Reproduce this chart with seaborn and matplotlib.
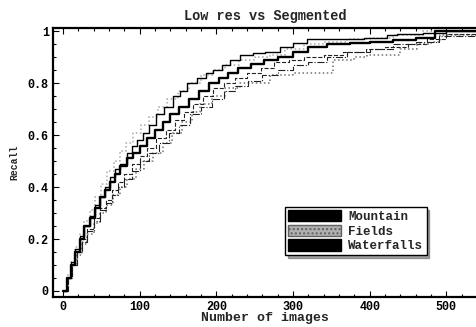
import matplotlib
matplotlib.use("Agg")
import matplotlib.pyplot as plt
from matplotlib.patches import Patch
from matplotlib.ticker import MultipleLocator
import pandas as pd
import seaborn as sns

# recall curves (x = number of images, y = recall)
mountain_low_x = [0, 5, 10, 16, 22, 28, 35, 42, 48, 55, 61, 68, 75, 83, 90, 97, 104, 112, 122, 132,
                  144, 153, 162, 175, 186, 196, 208, 218, 231, 248, 264, 283, 300, 318, 340, 365,
                  392, 423, 436, 470, 500, 540]
mountain_low_y = [0, 0.05, 0.11, 0.16, 0.21, 0.25, 0.29, 0.33, 0.36, 0.40, 0.44, 0.47, 0.49, 0.53,
                  0.56, 0.58, 0.61, 0.64, 0.68, 0.71, 0.75, 0.77, 0.80, 0.82, 0.84, 0.85, 0.87, 0.89,
                  0.91, 0.915, 0.92, 0.94, 0.955, 0.97, 0.97, 0.97, 0.975, 0.985, 0.99, 0.995, 1.0, 1.0]

mountain_seg_x = [0, 5, 10, 16, 22, 28, 35, 42, 48, 55, 61, 68, 75, 83, 92, 100, 110, 120, 130, 140,
                  152, 165, 178, 190, 203, 215, 228, 245, 262, 280, 300, 320, 345, 375, 400, 430,
                  460, 485, 540]
mountain_seg_y = [0, 0.05, 0.10, 0.15, 0.20, 0.25, 0.28, 0.32, 0.36, 0.39, 0.42, 0.45, 0.48, 0.51,
                  0.53, 0.56, 0.59, 0.62, 0.65, 0.68, 0.71, 0.74, 0.77, 0.80, 0.82, 0.84, 0.86,
                  0.875, 0.89, 0.90, 0.92, 0.94, 0.95, 0.955, 0.96, 0.965, 0.975, 1.0, 1.0]

waterfalls_low_x = [0, 6, 12, 18, 25, 32, 40, 48, 56, 64, 72, 80, 90, 100, 110, 122, 134, 146, 158,
                    170, 183, 196, 210, 225, 240, 258, 275, 295, 315, 340, 365, 395, 420, 450, 475,
                    500, 540]
waterfalls_low_y = [0, 0.05, 0.10, 0.15, 0.20, 0.24, 0.28, 0.32, 0.35, 0.39, 0.42, 0.45, 0.49, 0.52,
                    0.55, 0.59, 0.62, 0.66, 0.69, 0.72, 0.75, 0.78, 0.80, 0.82, 0.84, 0.86, 0.88,
                    0.89, 0.90, 0.91, 0.92, 0.93, 0.94, 0.95, 0.97, 0.99, 1.0]

waterfalls_seg_x = [0, 6, 12, 18, 25, 32, 40, 48, 56, 64, 72, 80, 90, 100, 112, 125, 138, 152, 166,
                    180, 195, 210, 225, 242, 260, 280, 300, 320, 345, 370, 400, 430, 460, 490, 540]
waterfalls_seg_y = [0, 0.05, 0.10, 0.15, 0.19, 0.23, 0.27, 0.31, 0.34, 0.37, 0.40, 0.43, 0.46, 0.50,
                    0.53, 0.57, 0.61, 0.64, 0.68, 0.71, 0.74, 0.77, 0.79, 0.81, 0.83, 0.85, 0.87,
                    0.88, 0.90, 0.92, 0.93, 0.95, 0.96, 0.98, 1.0]

fields_low_x = [0, 5, 10, 16, 22, 28, 35, 42, 50, 58, 66, 74, 82, 92, 102, 112, 124, 136, 150, 165,
                180, 196, 212, 230, 250, 270, 290, 315, 340, 370, 400, 430, 470, 540]
fields_low_y = [0, 0.06, 0.11, 0.17, 0.22, 0.27, 0.31, 0.36, 0.41, 0.46, 0.50, 0.54, 0.57, 0.61,
                0.64, 0.67, 0.71, 0.74, 0.77, 0.80, 0.83, 0.85, 0.87, 0.89, 0.90, 0.91, 0.93, 0.95,
                0.96, 0.97, 0.975, 0.985, 1.0, 1.0]

fields_seg_x = [0, 6, 12, 18, 25, 32, 40, 48, 56, 65, 74, 84, 95, 106, 118, 130, 142, 155, 168, 179,
                195, 212, 231, 257, 270, 300, 322, 352, 380, 397, 440, 462, 480, 492, 540]
fields_seg_y = [0, 0.05, 0.10, 0.14, 0.18, 0.22, 0.26, 0.30, 0.33, 0.37, 0.40, 0.43, 0.47, 0.50,
                0.53, 0.57, 0.61, 0.65, 0.69, 0.72, 0.75, 0.78, 0.80, 0.80, 0.83, 0.84, 0.84, 0.89,
                0.90, 0.91, 0.93, 0.95, 0.96, 0.985, 1.0]

legend_labels = ["Mountain", "Fields", "Waterfalls"]

sns.set_style("ticks")
plt.rcParams["font.family"] = ["Liberation Mono", "DejaVu Sans Mono"]
plt.rcParams["font.weight"] = "bold"

fig = plt.figure(figsize=(4.77, 3.27), dpi=100)
ax = fig.add_axes([0.111, 0.092, 0.889, 0.822])

curves = [
    (fields_low_x, fields_low_y, "#a8a8a8", ":", 1.1),
    (fields_seg_x, fields_seg_y, "#707070", ":", 1.1),
    (waterfalls_seg_x, waterfalls_seg_y, "#222222", "-.", 0.8),
    (waterfalls_low_x, waterfalls_low_y, "#222222", "--", 0.8),
    (mountain_seg_x, mountain_seg_y, "black", "-", 1.7),
    (mountain_low_x, mountain_low_y, "black", "-", 1.0),
]
for xs, ys, col, ls, lw in curves:
    df = pd.DataFrame({"images": xs, "recall": ys})
    sns.lineplot(data=df, x="images", y="recall", ax=ax, estimator=None,
                 drawstyle="steps-post", color=col, linestyle=ls, linewidth=lw)

ax.set_xlim(-13, 540)
ax.set_ylim(-0.023, 1.012)
ax.xaxis.set_major_locator(MultipleLocator(100))
ax.xaxis.set_minor_locator(MultipleLocator(20))
ax.yaxis.set_minor_locator(MultipleLocator(0.05))
ax.set_yticks([0, 0.2, 0.4, 0.6, 0.8, 1.0])
ax.set_yticklabels(["0", "0.2", "0.4", "0.6", "0.8", "1"])
ax.tick_params(which="both", direction="in", top=True, right=False, labelsize=8.5,
               width=0.8, colors="black")
ax.tick_params(which="major", length=4, pad=3)
ax.tick_params(which="minor", length=2)
for side in ["left", "bottom", "top"]:
    ax.spines[side].set_linewidth(1.6)
    ax.spines[side].set_color("black")
ax.spines["right"].set_visible(False)

ax.set_title("Low res vs Segmented", fontsize=9.8, fontweight="bold", pad=6)
ax.set_xlabel("Number of images", fontsize=9.5, fontweight="bold", labelpad=-1)
ax.set_ylabel("Recall", fontsize=7, fontweight="bold", labelpad=6)

handles = [
    Patch(facecolor="black", edgecolor="black"),
    Patch(facecolor="#b0b0b0", edgecolor="#606060", hatch="...."),
    Patch(facecolor="black", edgecolor="black"),
]
leg = ax.legend(handles, legend_labels, loc="upper left", bbox_to_anchor=(0.548, 0.335),
                prop={"size": 9, "weight": "bold"}, frameon=True, fancybox=False, shadow=True,
                edgecolor="black", handlelength=4.2, handleheight=1.0, labelspacing=0.15,
                borderpad=0.25, handletextpad=0.6, borderaxespad=0)
leg.get_frame().set_linewidth(1.0)

fig.savefig("out.png", dpi=100)
